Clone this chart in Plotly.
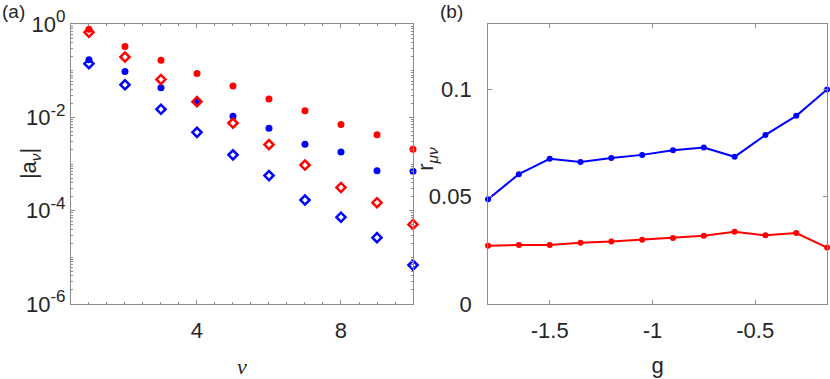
import plotly.graph_objects as go
from plotly.subplots import make_subplots

# panel (a): |a_nu| against nu
nu = [1, 2, 3, 4, 5, 6, 7, 8, 9, 10]
red_dot = [0.77, 0.33, 0.167, 0.0867, 0.0468, 0.0247, 0.0138, 0.00706, 0.00426, 0.00208]
red_diamond = [0.665, 0.196, 0.0647, 0.0217, 0.00753, 0.00261, 0.000951, 0.000314, 0.000148, 0.0000506]
blue_dot = [0.172, 0.0957, 0.0431, 0.0217, 0.0106, 0.0058, 0.00265, 0.0018, 0.000721, 0.000698]
blue_diamond = [0.1415, 0.0499, 0.0149, 0.00477, 0.00157, 0.000565, 0.000169, 0.0000724, 0.0000264, 0.00000682]

# panel (b): r_mu_nu against g
g = [-1.8, -1.65, -1.5, -1.35, -1.2, -1.05, -0.9, -0.75, -0.6, -0.45, -0.3, -0.15]
r_blue = [0.0488, 0.0605, 0.0677, 0.0662, 0.068, 0.0695, 0.0717, 0.0729, 0.0686, 0.0788, 0.0877, 0.1]
r_red = [0.0271, 0.0275, 0.0275, 0.0286, 0.0291, 0.030, 0.0308, 0.0318, 0.0337, 0.032, 0.0331, 0.0263]

log_ticks = [1e-6, 1e-4, 1e-2, 1]
log_exps = ["-6", "-4", "-2", "0"]

RED = "#ff0000"
BLUE = "#0000ff"
AXIS = "#8c8c8c"
TEXT = "#262626"
FONT = "Liberation Sans"

fig = make_subplots(rows=1, cols=2)

for ys, color in [(red_dot, RED), (blue_dot, BLUE)]:
    fig.add_trace(go.Scatter(x=nu, y=ys, mode="markers", cliponaxis=False,
                             marker=dict(symbol="circle", size=7, color=color)),
                  row=1, col=1)
for ys, color in [(red_diamond, RED), (blue_diamond, BLUE)]:
    fig.add_trace(go.Scatter(x=nu, y=ys, mode="markers", cliponaxis=False,
                             marker=dict(symbol="diamond-open", size=7, color=color,
                                         line=dict(width=2.5, color=color))),
                  row=1, col=1)

for ys, color in [(r_blue, BLUE), (r_red, RED)]:
    fig.add_trace(go.Scatter(x=g, y=ys, mode="lines+markers", cliponaxis=False,
                             line=dict(color=color, width=2),
                             marker=dict(symbol="circle", size=6, color=color)),
                  row=1, col=2)

axis_common = dict(showline=True, linecolor=AXIS, linewidth=1, mirror="ticks",
                   ticks="inside", ticklen=4, tickcolor=AXIS, showgrid=False,
                   zeroline=False, tickfont=dict(size=22, color=TEXT, family=FONT))

fig.update_xaxes(axis_common, ticklabelstandoff=7)
fig.update_yaxes(axis_common)

fig.update_xaxes(domain=[0.0855, 0.4976], range=[0.5, 10], tick0=0, dtick=4,
                 minor=dict(ticks="inside", ticklen=2, dtick=0.5, tickcolor=AXIS),
                 title=dict(text="<span style='font-family:Liberation Serif'><i>ν</i></span>",
                            font=dict(size=22, color=TEXT), standoff=20),
                 row=1, col=1)
fig.update_yaxes(type="log", range=[-6, 0], tickvals=log_ticks,
                 ticktext=["10<sup><span style='font-size:17px'>" + e + "</span></sup>"
                           for e in log_exps],
                 minor=dict(ticks="inside", ticklen=2, dtick="D1", tickcolor=AXIS),
                 row=1, col=1)

fig.update_xaxes(domain=[0.588, 0.9965], range=[-1.8, -0.15], tickvals=[-1.5, -1, -0.5],
                 ticktext=["-1.5", "-1", "-0.5"],
                 title=dict(text="g", font=dict(size=22, color=TEXT, family=FONT), standoff=15),
                 row=1, col=2)
fig.update_yaxes(range=[0, 0.1305], tickvals=[0, 0.05, 0.1], ticktext=["0", "0.05", "0.1"],
                 ticklabelstandoff=11, row=1, col=2)

fig.update_layout(
    width=830, height=379,
    margin=dict(l=0, r=0, t=24, b=72),
    plot_bgcolor="white", paper_bgcolor="white",
    showlegend=False,
    font=dict(family=FONT, color=TEXT),
    annotations=[
        dict(text="(a)", x=0, y=1.045, xref="paper", yref="paper", xanchor="left",
             yanchor="middle", showarrow=False, font=dict(size=19, color=TEXT)),
        dict(text="(b)", x=0.528, y=1.045, xref="paper", yref="paper", xanchor="left",
             yanchor="middle", showarrow=False, font=dict(size=19, color=TEXT)),
        dict(text="|a<sub><i>ν</i></sub>|", x=0.017, y=0.5, xref="paper", yref="paper",
             textangle=-90, showarrow=False, font=dict(size=22, color=TEXT)),
        dict(text="r<sub><i>μν</i></sub>", x=0.515, y=0.52, xref="paper", yref="paper",
             textangle=-90, showarrow=False, font=dict(size=22, color=TEXT)),
    ],
)

fig.write_html("out.html", config={"displayModeBar": False},
               post_script="document.body.style.margin='0';")
